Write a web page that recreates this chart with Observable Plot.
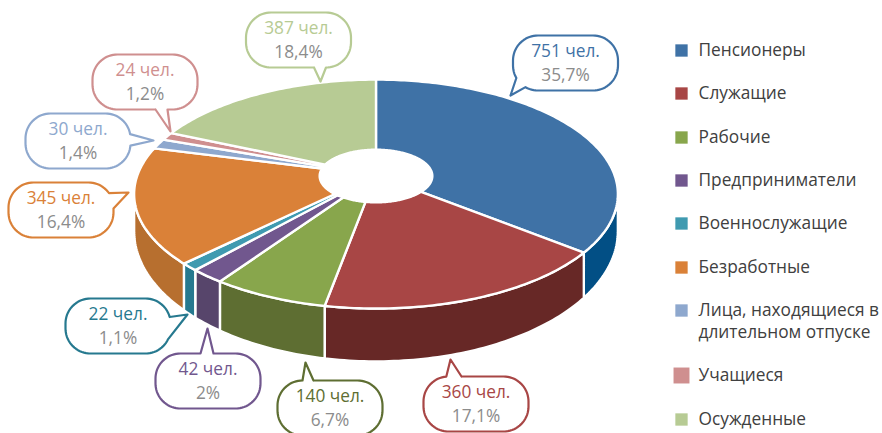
<!DOCTYPE html>
<html><head><meta charset="utf-8">
<style>html,body{margin:0;padding:0;background:#fff;overflow:hidden}svg{display:block}</style>
<script src="https://cdn.jsdelivr.net/npm/d3@7"></script>
<script src="https://cdn.jsdelivr.net/npm/@observablehq/plot@0.6"></script>
</head><body><div id="chart"></div>
<script>
const categories = ["Пенсионеры","Служащие","Рабочие","Предприниматели","Военнослужащие","Безработные","Лица, находящиеся в\nдлительном отпуске","Учащиеся","Осужденные"];
const counts = [751,360,140,42,22,345,30,24,387];
const percents = [35.7,17.1,6.7,2,1.1,16.4,1.4,1.2,18.4];
const topColors = ["#3F72A6","#A84645","#88A64C","#71578E","#3F9AB0","#DA8138","#8EA8CE","#CF8F8F","#B7CB94"];
const wallColors = ["#024F85","#672826","#5E6E32","#57456B","#26798F","#B76F2F","#8EA8CE","#CF8F8F","#B7CB94"];
const labelColors = ["#3F72A6","#A84645","#5E6E32","#71578E","#26798F","#DA8138","#8EA8CE","#CF8F8F","#B7CB94"];
// Callout layout: box left/top, tail tip, two points where the tail leaves the box
const calloutBoxes = [[512.5,35],[423,376],[277,380],[155,353],[65,298],[8,182],[25,113],[92,54],[245.5,12]];
const calloutTips = [[510,95],[450,359],[305,362],[207,328],[187,314],[128,192],[153,140],[170,131],[320,81]];
const calloutBases = [[[517,78],[525,87]],[[446,376],[461,376]],[[302,380],[313,380]],[[200,353],[213,353]],[[167,317],[165,337]],[[108,193],[112,208]],[[128,134],[128,145]],[[155,109],[167,109]],[[313,67],[326,67]]];
const legendRows = [50,93,137,180,223,267,310,375,419];
const legendSizes = [6.95,6.95,6.95,6.95,6.95,6.95,6.95,9,6.95];

// Perspective projection of the pie disc
const cx=375.5, k=1/6, A=238.5, cyTop=174.5, B=111.3, cyBot=209, Bb=126.6, hole=0.236;
const rad=Math.PI/180;
function proj(theta,r,bottom){
  const u=r*Math.sin(theta*rad), v=-r*Math.cos(theta*rad), w=1-k*v;
  return {x:cx+A*u/w, y:bottom? cyBot+Bb*v/w : cyTop+B*v/w};
}
const total=d3.sum(counts);
const starts=[]; { let c=0; for(const n of counts){ starts.push(c/total*360); c+=n; } }
const ends=starts.map((s,i)=>s+counts[i]/total*360);
function arcAngles(a,b){ const n=Math.max(2,Math.ceil(Math.abs(b-a))); return d3.range(n+1).map(i=>a+(b-a)*i/n); }

const topPts=categories.flatMap((c,i)=>{
  const outer=arcAngles(starts[i],ends[i]).map(t=>proj(t,1,false));
  const inner=arcAngles(ends[i],starts[i]).map(t=>proj(t,hole,false));
  const pts=[...outer,...inner]; pts.push(pts[0]);
  return pts.map(p=>({...p,category:c}));
});
const wallMin=100, wallMax=260;
const walls=categories.map((c,i)=>{
  const a=Math.max(starts[i],wallMin), b=Math.min(ends[i],wallMax);
  if(a>=b) return null;
  const pts=[...arcAngles(a,b).map(t=>proj(t,1,false)),...arcAngles(b,a).map(t=>proj(t,1,true))];
  pts.push(pts[0]);
  return {color:wallColors[i],pts};
}).filter(Boolean);

const boxW=105, boxH=55, boxR=25;
function roundedRect(x,y){
  const pts=[]; const corners=[[x+boxW-boxR,y+boxR,-90],[x+boxW-boxR,y+boxH-boxR,0],[x+boxR,y+boxH-boxR,90],[x+boxR,y+boxR,180]];
  corners.forEach(([ox,oy,a0],ci)=>{
    for(let a=a0;a<=a0+90;a+=5) pts.push([ox+boxR*Math.cos(a*rad),oy+boxR*Math.sin(a*rad)]);
    const next=corners[(ci+1)%4];
    const ex=ox+boxR*Math.cos((a0+90)*rad), ey=oy+boxR*Math.sin((a0+90)*rad);
    const nx=next[0]+boxR*Math.cos((a0+90)*rad), ny=next[1]+boxR*Math.sin((a0+90)*rad);
    const len=Math.hypot(nx-ex,ny-ey);
    for(let s=1;s<len;s+=1) pts.push([ex+(nx-ex)*s/len,ey+(ny-ey)*s/len]);
  });
  return pts;
}
function callout(i){
  const [x,y]=calloutBoxes[i];
  const P=roundedRect(x,y), n=P.length;
  const near=q=>d3.minIndex(P,p=>Math.hypot(p[0]-q[0],p[1]-q[1]));
  let ia=near(calloutBases[i][0]), ib=near(calloutBases[i][1]);
  if((ib-ia+n)%n>n/2){ [ia,ib]=[ib,ia]; }
  const out=[]; const f=(ib-ia+n)%n;
  for(let j=0;j<=n-f;j++) out.push(P[(ib+j)%n]);
  out.push(calloutTips[i]); out.push(P[ib]);
  return out.map(p=>({x:p[0],y:p[1],id:i,color:labelColors[i]}));
}
const calloutPts=categories.flatMap((c,i)=>callout(i));
const labels=categories.map((c,i)=>({
  x:calloutBoxes[i][0]+boxW/2,
  y1:calloutBoxes[i][1]+15.5,
  y2:calloutBoxes[i][1]+39.5,
  a:counts[i]+" чел.",
  b:String(percents[i]).replace(".",",")+"%",
  color:labelColors[i]
}));
const legend=categories.map((c,i)=>({category:c,y:legendRows[i],r:legendSizes[i]}));

const fontFamily="'Open Sans', sans-serif";
const plot=Plot.plot({
  width:882,height:433,margin:0,
  style:{background:"#fff",fontFamily},
  x:{domain:[0,882],range:[0,882],axis:null},
  y:{domain:[0,433],range:[0,433],axis:null},
  color:{domain:categories,range:topColors},
  marks:[
    ...walls.map(w=>Plot.line(w.pts,{x:"x",y:"y",fill:w.color,stroke:"white",strokeWidth:2.4})),
    Plot.line(topPts,{x:"x",y:"y",z:"category",fill:"category",stroke:"white",strokeWidth:2.4}),
    Plot.line(calloutPts,{x:"x",y:"y",z:"id",fill:"white",stroke:{value:"color",scale:null},strokeWidth:2.2}),
    Plot.text(labels,{x:"x",y:"y1",text:"a",fill:{value:"color",scale:null},fontSize:17.3,textAnchor:"middle"}),
    Plot.text(labels,{x:"x",y:"y2",text:"b",fill:"#8C8C8C",fontSize:17.3,textAnchor:"middle"}),
    Plot.dot(legend,{x:()=>681,y:"y",r:{value:"r",scale:null},symbol:"square",fill:"category"}),
    Plot.text(legend,{x:()=>698,y:"y",text:"category",textAnchor:"start",lineAnchor:"top",dy:-10,lineHeight:1.27,fontSize:17.3,fill:"#404040"})
  ]
});
document.getElementById("chart").append(plot);
</script></body></html>
